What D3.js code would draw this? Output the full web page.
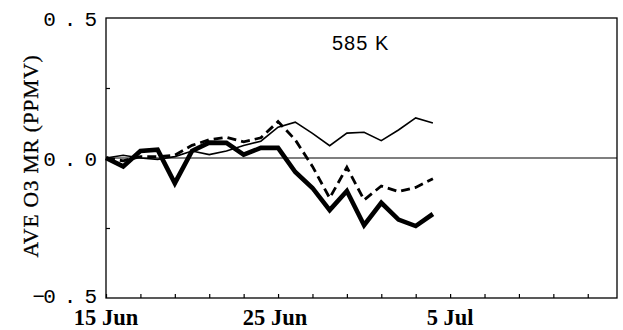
<!DOCTYPE html>
<html>
<head>
<meta charset="utf-8">
<script src="https://cdn.jsdelivr.net/npm/d3@7"></script>
<style>
  html, body { margin: 0; padding: 0; background: #fff; }
  svg { display: block; }
</style>
</head>
<body>
<svg id="chart" width="623" height="330"></svg>
<script>
// Days since 15 Jun, one value per day
const days = d3.range(0, 20);
const thinSeries = [0, 0.01, 0.0, -0.005, 0.005, 0.025, 0.012, 0.025, 0.045, 0.06,
                    0.11, 0.128, 0.088, 0.044, 0.089, 0.092, 0.062, 0.1, 0.143, 0.125];
const dashedSeries = [0, -0.01, 0.005, 0.005, 0.01, 0.045, 0.065, 0.074, 0.058, 0.072,
                      0.13, 0.065, -0.03, -0.143, -0.033, -0.15, -0.1, -0.12, -0.105, -0.074];
const thickSeries = [0, -0.03, 0.025, 0.03, -0.09, 0.025, 0.055, 0.054, 0.012, 0.036,
                     0.036, -0.05, -0.107, -0.186, -0.118, -0.24, -0.16, -0.22, -0.243, -0.2];
const xTickDays = [0, 10, 20];
const xTickLabels = ["15 Jun", "25 Jun", "5 Jul"];
const xMinorDays = d3.range(0, 30, 2);
const yTicks = [-0.5, 0.0, 0.5];
const yMinor = [-0.25, 0.25];
const levelLabel = "585 K";
const yTitle = "AVE O3 MR (PPMV)";

const svg = d3.select("#chart");
const plotLeft = 106, plotRight = 617, plotTop = 18, plotBottom = 298;

const x = d3.scaleLinear().domain([0, 29.7]).range([plotLeft, plotRight]);
const y = d3.scaleLinear().domain([-0.5, 0.5]).range([plotBottom, plotTop]);

// frame
svg.append("rect")
  .attr("x", plotLeft).attr("y", plotTop)
  .attr("width", plotRight - plotLeft).attr("height", plotBottom - plotTop)
  .attr("fill", "none").attr("stroke", "#000").attr("stroke-width", 1.3);

// bottom axis: minor ticks inside the frame
const xAxis = d3.axisBottom(x).tickValues(xMinorDays).tickSize(-4).tickFormat("");
const gx = svg.append("g").attr("transform", `translate(0,${plotBottom})`).call(xAxis);
gx.select(".domain").remove();
gx.selectAll("line").attr("stroke", "#000").attr("stroke-width", 1.2);

// left axis minor ticks
const yAxis = d3.axisLeft(y).tickValues(yMinor).tickSize(-4).tickFormat("");
const gy = svg.append("g").attr("transform", `translate(${plotLeft},0)`).call(yAxis);
gy.select(".domain").remove();
gy.selectAll("line").attr("stroke", "#000").attr("stroke-width", 1.2);

// zero reference line
svg.append("line")
  .attr("x1", plotLeft).attr("x2", plotRight)
  .attr("y1", y(0)).attr("y2", y(0))
  .attr("stroke", "#000").attr("stroke-width", 1.1);

// y tick labels: wide digits, compact minus sign
const fmt = d3.format(".1f");
svg.append("g").selectAll("text").data(yTicks).join("text")
  .attr("x", 105)
  .attr("y", d => y(d) + (d < 0 ? -3 : 0))
  .attr("dy", "0.36em")
  .attr("text-anchor", "end")
  .attr("font-family", "Liberation Mono, DejaVu Sans Mono, monospace")
  .attr("font-size", 21)
  .each(function (d) {
    const t = d3.select(this);
    const s = fmt(Math.abs(d));
    if (d < 0) {
      t.append("tspan").attr("letter-spacing", "-2px").text("\u2212");
    }
    t.append("tspan").attr("letter-spacing", "8px").text(s);
  });

// x tick labels
svg.append("g").selectAll("text").data(xTickDays).join("text")
  .attr("x", d => x(d) + (d === 10 ? -3 : 0))
  .attr("y", 325)
  .attr("text-anchor", "middle")
  .attr("font-family", "Liberation Serif, Times New Roman, serif")
  .attr("font-size", 22.5)
  .attr("font-weight", "bold")
  .text((d, i) => xTickLabels[i]);

// y axis title
svg.append("text")
  .attr("transform", `translate(38,${(plotTop + plotBottom) / 2 - 2}) rotate(-90)`)
  .attr("text-anchor", "middle")
  .attr("font-family", "Liberation Serif, Times New Roman, serif")
  .attr("font-size", 21.5)
  .attr("letter-spacing", "0.8px")
  .attr("stroke", "#000").attr("stroke-width", 0.3)
  .text(yTitle);

// level label
svg.append("text")
  .attr("x", 332).attr("y", 50)
  .attr("font-family", "Liberation Sans, Arial, sans-serif")
  .attr("font-size", 20)
  .attr("letter-spacing", "1px")
  .text(levelLabel);

const line = d3.line().x((d, i) => x(days[i])).y(d => y(d));

svg.append("path").datum(thinSeries)
  .attr("d", line).attr("fill", "none")
  .attr("stroke", "#000").attr("stroke-width", 1.6)
  .attr("stroke-linejoin", "miter");

svg.append("path").datum(dashedSeries)
  .attr("d", line).attr("fill", "none")
  .attr("stroke", "#000").attr("stroke-width", 2.8)
  .attr("stroke-dasharray", "9,5");

svg.append("path").datum(thickSeries)
  .attr("d", line).attr("fill", "none")
  .attr("stroke", "#000").attr("stroke-width", 4.6)
  .attr("stroke-linejoin", "miter");
</script>
</body>
</html>
